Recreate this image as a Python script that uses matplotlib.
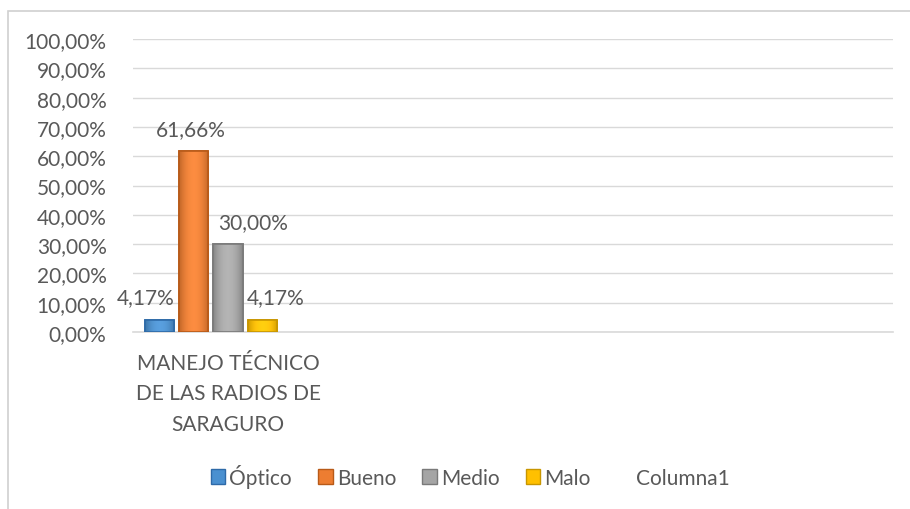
import numpy as np
import matplotlib
matplotlib.use("Agg")
import matplotlib.pyplot as plt
from matplotlib.patches import Rectangle, Patch
from matplotlib.ticker import FuncFormatter
from matplotlib.colors import to_rgb

plt.rcParams['font.family'] = ['Lato', 'DejaVu Sans']

categories = ["MANEJO TÉCNICO\nDE LAS RADIOS DE\nSARAGURO", "", "", ""]
series = ["Óptico", "Bueno", "Medio", "Malo", "Columna1"]
values = [0.0417, 0.6166, 0.30, 0.0417, None]
labels = ["4,17%", "61,66%", "30,00%", "4,17%", None]
colors = ["#4A90D0", "#ED7D31", "#A5A5A5", "#FFC000", "none"]
edges = ["#2E6AA8", "#B85A18", "#7A7A7A", "#C89600", "none"]
label_dx = [-10, -2, 18, 10, 0]

text_col = "#595959"
grid_col = "#D9D9D9"

fig = plt.figure(figsize=(9.1, 5.1), dpi=100)
ax = fig.add_axes([133 / 910, 1 - 333 / 510, (893 - 133) / 910, (333 - 40) / 510])

n = len(series)
slot = 0.9 / n
bar_w = slot * 0.85
for i, (name, v) in enumerate(zip(series, values)):
    if v is None:
        continue
    x = 0 - 0.45 + slot * (i + 0.5)
    bar = ax.bar(x, v, width=bar_w, color=colors[i], edgecolor=edges[i], linewidth=1.2, zorder=3)[0]
    # soft bevel look: darker at the sides, lighter in the middle
    base = np.array(to_rgb(colors[i]))
    t = np.linspace(-1, 1, 40)
    shade = 1 - 0.18 * t ** 2
    grad = np.clip(base[None, :] * shade[:, None] + 0.06 * (1 - t[:, None] ** 2), 0, 1)[None, :, :]
    im = ax.imshow(grad, extent=[x - bar_w / 2, x + bar_w / 2, 0, v], aspect="auto", zorder=3.2)
    im.set_clip_path(bar)
    ax.bar(x, v, width=bar_w, color="none", edgecolor=edges[i], linewidth=1.2, zorder=3.4)
    ax.annotate(labels[i], (x, v), xytext=(label_dx[i], 9), textcoords="offset points",
                ha="center", va="bottom", fontsize=15, color=text_col)

ax.set_xlim(-0.5, len(categories) - 0.5)
ax.set_ylim(0, 1)
ax.set_yticks(np.arange(0, 1.01, 0.1))
ax.yaxis.set_major_formatter(FuncFormatter(lambda v, p: f"{v * 100:.2f}%".replace(".", ",")))
ax.set_xticks(range(len(categories)))
ax.set_xticklabels(categories, fontsize=15, color=text_col, linespacing=1.65)
ax.tick_params(axis="y", length=0, labelsize=15, labelcolor=text_col, pad=19)
ax.tick_params(axis="x", length=0, pad=15)
ax.grid(axis="y", color=grid_col, linewidth=1, zorder=0)
for s in ["top", "right", "left"]:
    ax.spines[s].set_visible(False)
ax.spines["bottom"].set_color(grid_col)
ax.spines["bottom"].set_linewidth(1.2)

handles = [Patch(facecolor=colors[i], edgecolor=edges[i]) for i in range(n)]
fig.legend(handles, series, loc="center", bbox_to_anchor=(470 / 910, 1 - 477 / 510), ncol=n,
           frameon=False, fontsize=15, labelcolor=text_col, handlelength=0.7, handleheight=0.7,
           handletextpad=0.2, columnspacing=1.25)

fig.add_artist(Rectangle((8 / 910, -0.1), 1.0, 1 - 12 / 510 + 0.1, transform=fig.transFigure,
                         fill=False, edgecolor="#D0D0D0", linewidth=1.2, clip_on=False))

fig.savefig("out.png", dpi=100)
